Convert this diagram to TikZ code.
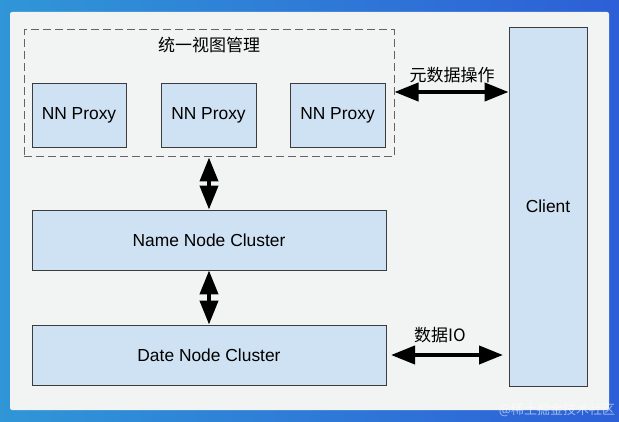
\documentclass[tikz,border=0pt]{standalone}
\usepackage{fontspec}
\setmainfont{Liberation Sans}
\newfontfamily\cjk{Noto Sans CJK SC}
\usetikzlibrary{arrows.meta}
\definecolor{boxfill}{RGB}{207,226,243}
\definecolor{boxline}{RGB}{60,60,60}
\definecolor{panel}{RGB}{242,243,243}
\definecolor{bgleft}{RGB}{48,150,215}
\definecolor{bgright}{RGB}{45,95,215}
\definecolor{dashline}{RGB}{100,100,100}
\begin{document}
\begin{tikzpicture}[x=1pt,y=-1pt,
  box/.style={draw=boxline, line width=0.9pt, fill=boxfill, inner sep=0pt,
    font=\fontsize{17.4}{20}\selectfont},
  viewbox/.style={draw=dashline, line width=1pt, dash pattern=on 8pt off 4pt, inner sep=0pt},
  lbl/.style={font=\cjk\fontsize{17}{20}\selectfont, inner sep=0pt},
  dbl/.style={line width=4pt, {Triangle[length=24pt,width=18pt]}-{Triangle[length=24pt,width=18pt]}}
]
\useasboundingbox (0,0) rectangle (619,422);
\shade[left color=bgleft, right color=bgright] (0,0) rectangle (619,422);
\fill[panel, rounded corners=2pt] (10,12) rectangle (609,410);

\node[viewbox, minimum width=370pt, minimum height=127pt] (view) at (209,93.5) {};
\node[lbl] (title) at (209,45) {统一视图管理};
\node[box, minimum width=94pt, minimum height=64pt] (p1) at (79,115) {NN Proxy};
\node[box, minimum width=95pt, minimum height=64pt] (p2) at (208.5,115) {NN Proxy};
\node[box, minimum width=95pt, minimum height=64pt] (p3) at (337.5,115) {NN Proxy};

\node[box, minimum width=354pt, minimum height=60pt] (name) at (209,240) {Name Node Cluster};
\node[box, minimum width=354pt, minimum height=60pt] (date) at (209,355) {Date Node Cluster};
\node[box, minimum width=78pt, minimum height=359pt] (client) at (548,206.5) {Client};

\draw[dbl] (view.south) -- (name.north);
\draw[dbl] (name.south) -- (date.north);

\coordinate (m1) at (view.east |- 0,92);
\coordinate (m2) at (client.west |- 0,92);
\draw[dbl] (m1) -- (m2);
\node[lbl] (meta) at (452,75) {元数据操作};

\coordinate (d1) at (391,355);
\coordinate (d2) at (503,355);
\draw[dbl] (d1) -- (d2);
\node[lbl] (io) at (440,335) {数据IO};

\node[font=\cjk\fontsize{13}{15}\selectfont, text=white, opacity=0.55, inner sep=0pt] (wm) at (557,410) {@稀土掘金技术社区};
\end{tikzpicture}
\end{document}
